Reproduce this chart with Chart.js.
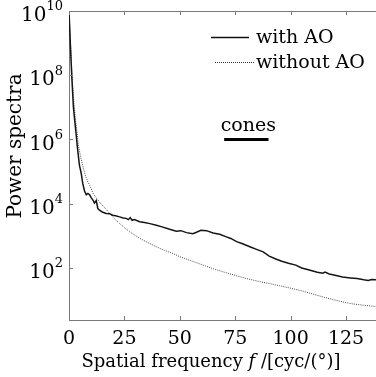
<!DOCTYPE html>
<html>
<head>
<meta charset="utf-8">
<script src="https://cdn.jsdelivr.net/npm/chart.js@4.4.1/dist/chart.umd.min.js"></script>
<style>
  html, body { margin: 0; padding: 0; background: #fff; }
  canvas { display: block; }
</style>
</head>
<body>
<canvas id="spectra" width="376" height="377"></canvas>
<script>
// values
var freqWith = [0, 0.7, 1.3, 2.0, 2.7, 3.3, 3.8, 4.7, 5.5, 6.2, 7.0, 7.8, 8.5, 9.3, 10.0, 10.8, 11.5, 12.3, 13.0, 13.8,
    15.0, 16.8, 18.3, 19.7, 21.0, 22.8, 24.5, 25.8, 26.8, 27.6, 28.5, 29.5, 31.9, 34.0, 36.5, 39.4, 42.0, 45.4, 48.4, 50.5,
    53.0, 55.9, 57.5, 59.5, 62.0, 65.0, 68.0, 71.0, 73.0, 75.6, 78.0, 81.6, 84.6, 87.6, 90.3, 93.3, 96.0, 99.0, 102.3, 105.0,
    108.4, 112.0, 114.5, 115.5, 117.4, 120.0, 123.4, 127.0, 130.0, 133.0, 135.0, 136.5, 138.5];
var powerWith = [1e10, 6.3e8, 7.9e7, 1e7, 3.2e6, 1.3e6, 5.6e5, 1.6e5, 8.9e4, 4.3e4, 2.5e4, 1.9e4, 2.1e4, 1.9e4, 1.55e4, 1.3e4, 1.05e4, 1.25e4, 7.1e3, 6.3e3,
    5.5e3, 5.0e3, 4.9e3, 4.4e3, 4.2e3, 3.9e3, 3.6e3, 3.5e3, 3.2e3, 3.7e3, 3.05e3, 3.2e3, 2.75e3, 2.6e3, 2.4e3, 2.15e3, 1.9e3, 1.6e3, 1.4e3, 1.45e3,
    1.26e3, 1.17e3, 1.3e3, 1.5e3, 1.45e3, 1.23e3, 1.12e3, 930, 830, 660, 575, 457, 380, 316, 234, 190, 162, 141, 123, 100,
    87, 74, 69, 74, 65, 59, 52, 49, 47, 43, 41, 44, 43];

var freqWithout = [0, 0.7, 1.3, 2.0, 2.8, 3.5, 4.2, 5.0, 5.6, 6.5, 7.5, 8.5, 9.3, 11.0, 13.8, 16.0, 18.3, 20.5, 22.8, 25.0,
    27.3, 30.0, 32.0, 35.0, 39.4, 43.0, 46.9, 50.0, 54.5, 60.0, 65.0, 70.0, 75.0, 80.0, 85.0, 90.0, 95.0, 100.0, 105.0, 108.4,
    115.0, 120.0, 123.4, 128.0, 133.0, 138.5];
var powerWithout = [1e10, 1e9, 1.26e8, 2e7, 5e6, 2e6, 7.1e5, 3.5e5, 2.3e5, 1.26e5, 7.1e4, 4.8e4, 3.8e4, 2e4, 1.12e4, 7.6e3, 5e3, 3.4e3, 2.45e3, 1.8e3,
    1.35e3, 1.02e3, 830, 645, 457, 355, 282, 224, 174, 126, 95, 74, 59, 47, 39, 33, 28, 23.4, 19.5, 16.6,
    12.3, 10, 8.8, 7.6, 6.9, 6.3];

var xTicks = [0, 25, 50, 75, 100, 125];
var yExponents = [2, 4, 6, 8, 10];
var seriesNames = ['with AO', 'without AO'];
var conesRange = [70, 90];
var conesLevel = 1e6;

var serif = '"DejaVu Serif", serif';
var axisGray = '#7a7a7a';

function toPoints(xs, ys) {
    return xs.map(function (x, i) { return { x: x, y: ys[i] }; });
}

var decorations = {
    id: 'decorations',
    afterDraw: function (chart) {
        var ctx = chart.ctx;
        var area = chart.chartArea;
        var xs = chart.scales.x;
        var ys = chart.scales.y;
        ctx.save();

        // top border + inward ticks
        ctx.strokeStyle = axisGray;
        ctx.lineWidth = 1;
        ctx.beginPath();
        ctx.moveTo(area.left, area.top + 0.5);
        ctx.lineTo(area.right, area.top + 0.5);
        xTicks.forEach(function (t) {
            var px = Math.round(xs.getPixelForValue(t)) + 0.5;
            ctx.moveTo(px, area.bottom);
            ctx.lineTo(px, area.bottom - 4);
            ctx.moveTo(px, area.top);
            ctx.lineTo(px, area.top + 4);
        });
        yExponents.forEach(function (e) {
            var py = Math.round(ys.getPixelForValue(Math.pow(10, e))) + 0.5;
            ctx.moveTo(area.left, py);
            ctx.lineTo(area.left + 4, py);
        });
        ctx.stroke();

        // y tick labels 10^n
        ctx.fillStyle = '#000';
        ctx.textBaseline = 'middle';
        yExponents.forEach(function (e) {
            var py = ys.getPixelForValue(Math.pow(10, e));
            var exp = String(e);
            ctx.font = '13px ' + serif;
            var ew = ctx.measureText(exp).width;
            ctx.textAlign = 'right';
            ctx.fillText(exp, 63, py - 4);
            ctx.font = '20px ' + serif;
            ctx.fillText('10', 63 - ew, py + 5);
        });

        // y title
        ctx.save();
        ctx.translate(16, 146);
        ctx.rotate(-Math.PI / 2);
        ctx.font = '20px ' + serif;
        ctx.textAlign = 'center';
        ctx.fillText('Power spectra', 0, 0);
        ctx.restore();

        // x title with italic f
        var parts = [['Spatial frequency ', 'normal'], ['f', 'italic'], [' /[cyc/(\u00b0)]', 'normal']];
        var total = 0;
        parts.forEach(function (p) {
            ctx.font = p[1] + ' 18px ' + serif;
            total += ctx.measureText(p[0]).width;
        });
        var cx = 211 - total / 2;
        ctx.textAlign = 'left';
        parts.forEach(function (p) {
            ctx.font = p[1] + ' 18px ' + serif;
            ctx.fillText(p[0], cx, 362);
            cx += ctx.measureText(p[0]).width;
        });

        // legend
        ctx.font = '19px ' + serif;
        ctx.strokeStyle = '#111';
        ctx.lineWidth = 1.6;
        ctx.setLineDash([]);
        ctx.beginPath();
        ctx.moveTo(211, 37.5);
        ctx.lineTo(249, 37.5);
        ctx.stroke();
        ctx.fillText(seriesNames[0], 256, 38);
        ctx.strokeStyle = '#333';
        ctx.lineWidth = 1;
        ctx.setLineDash([1, 1]);
        ctx.beginPath();
        ctx.moveTo(215, 62.5);
        ctx.lineTo(254, 62.5);
        ctx.stroke();
        ctx.setLineDash([]);
        ctx.fillText(seriesNames[1], 256, 63);

        // cones marker
        var c0 = xs.getPixelForValue(conesRange[0]);
        var c1 = xs.getPixelForValue(conesRange[1]);
        var cy = ys.getPixelForValue(conesLevel);
        ctx.strokeStyle = '#000';
        ctx.lineWidth = 3;
        ctx.beginPath();
        ctx.moveTo(c0, cy);
        ctx.lineTo(c1, cy);
        ctx.stroke();
        ctx.textAlign = 'center';
        ctx.fillText('cones', (c0 + c1) / 2 + 2, cy - 13);

        ctx.restore();
    }
};

var spectraChart = new Chart(document.getElementById('spectra'), {
    type: 'line',
    data: {
        datasets: [{
            label: seriesNames[0],
            data: toPoints(freqWith, powerWith),
            borderColor: '#151515',
            borderWidth: 1.5,
            pointRadius: 0,
            fill: false,
            tension: 0
        }, {
            label: seriesNames[1],
            data: toPoints(freqWithout, powerWithout),
            borderColor: '#444',
            borderWidth: 1,
            borderDash: [1, 1.2],
            pointRadius: 0,
            fill: false,
            tension: 0
        }]
    },
    options: {
        responsive: false,
        animation: false,
        devicePixelRatio: 1,
        layout: { padding: { top: 11, right: 0, left: 0, bottom: 0 } },
        plugins: {
            legend: { display: false },
            tooltip: { enabled: false }
        },
        scales: {
            x: {
                type: 'linear',
                min: 0,
                max: 138.5,
                grid: { display: false, drawTicks: false },
                border: { display: true, color: axisGray, width: 1 },
                afterBuildTicks: function (scale) {
                    scale.ticks = xTicks.map(function (v) { return { value: v }; });
                },
                afterFit: function (scale) {
                    scale.height = 57;
                    scale.paddingLeft = 0;
                    scale.paddingRight = 0;
                },
                ticks: {
                    color: '#000',
                    padding: 8,
                    maxRotation: 0,
                    font: { family: serif, size: 19 }
                }
            },
            y: {
                type: 'logarithmic',
                min: 2.4,
                max: 1e10,
                grid: { display: false, drawTicks: false },
                border: { display: true, color: axisGray, width: 1 },
                afterBuildTicks: function (scale) {
                    scale.ticks = yExponents.map(function (e) { return { value: Math.pow(10, e) }; });
                },
                afterFit: function (scale) {
                    scale.width = 69;
                    scale.paddingTop = 0;
                    scale.paddingBottom = 0;
                },
                ticks: { display: false }
            }
        }
    },
    plugins: [decorations]
});
</script>
</body>
</html>
